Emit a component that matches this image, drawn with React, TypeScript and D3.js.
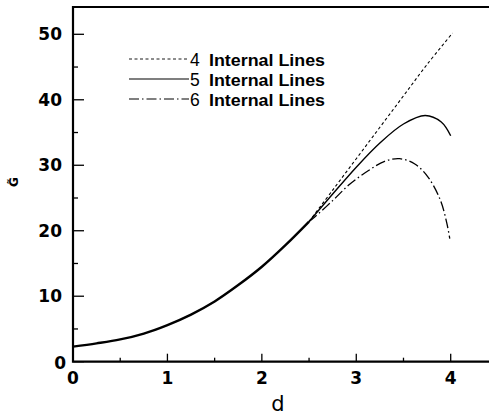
import { useRef, useEffect } from 'react';
import * as d3 from 'd3';

const W = 489;
const H = 415;
const X0 = 73;          // left frame
const Y0 = 361.7;       // bottom axis
const TOP = 7;

// base curve shared by all three
const baseD = [0, 0.25, 0.5, 0.75, 1, 1.25, 1.5, 1.75, 2, 2.25, 2.5];
const baseG = [2.3, 2.8, 3.4, 4.3, 5.6, 7.2, 9.2, 11.7, 14.5, 17.8, 21.4];

const fourD = [2.5, 2.75, 3, 3.25, 3.5, 3.75, 4.02];
const fourG = [21.4, 26.2, 31.0, 35.8, 40.6, 45.4, 50.2];

const fiveD = [2.5, 2.75, 3, 3.25, 3.5, 3.73, 3.9, 4.0];
const fiveG = [21.4, 25.6, 29.7, 33.4, 36.3, 37.6, 36.6, 34.5];

const sixD = [2.5, 2.56, 2.75, 2.93, 3.13, 3.3, 3.46, 3.62, 3.76, 3.89, 3.96, 3.99];
const sixG = [21.4, 22.1, 24.6, 27.1, 29.2, 30.6, 31.0, 30.2, 28.2, 24.7, 21.1, 18.8];

const xMajor = [0, 1, 2, 3, 4];
const xMinor = [0.5, 1.5, 2.5, 3.5];
const yMajor = [0, 10, 20, 30, 40, 50];
const yMinor = [5, 15, 25, 35, 45];

const legendDigits = ['4', '5', '6'];
const legendDash = ['3,2.5', '', '10,3,1.5,3'];

export default function App() {
  const ref = useRef<SVGSVGElement>(null);

  useEffect(() => {
    const svg = d3.select(ref.current);
    svg.selectAll('*').remove();

    const x = d3.scaleLinear().domain([0, 4]).range([X0, 450.7]);
    const y = d3.scaleLinear().domain([0, 50]).range([Y0, 34.3]);

    // frame
    svg.append('path')
      .attr('d', `M${W},${TOP}H${X0}V${Y0}H${W}`)
      .attr('fill', 'none')
      .attr('stroke', '#000')
      .attr('stroke-width', 2.2);

    // ticks (inward)
    const tk = svg.append('g').attr('stroke', '#000').attr('stroke-width', 1.3);
    xMajor.forEach((v) => tk.append('line').attr('x1', x(v)).attr('x2', x(v)).attr('y1', Y0).attr('y2', Y0 - 8));
    xMinor.forEach((v) => tk.append('line').attr('x1', x(v)).attr('x2', x(v)).attr('y1', Y0).attr('y2', Y0 - 4));
    yMajor.forEach((v) => tk.append('line').attr('x1', X0).attr('x2', X0 + 11).attr('y1', y(v)).attr('y2', y(v)));
    yMinor.forEach((v) => tk.append('line').attr('x1', X0).attr('x2', X0 + 5).attr('y1', y(v)).attr('y2', y(v)));

    const font = "'DejaVu Sans', sans-serif";
    svg.append('g').selectAll('text').data(xMajor).join('text')
      .attr('x', (d) => x(d))
      .attr('y', 378)
      .attr('dy', '0.36em')
      .attr('text-anchor', 'middle')
      .attr('font-family', font)
      .attr('font-weight', 'bold')
      .attr('font-size', 17)
      .text((d) => d);

    svg.append('g').selectAll('text').data(yMajor).join('text')
      .attr('x', (d) => (d === 0 ? 66 : 62))
      .attr('y', (d) => y(d) + (d === 0 ? 0.8 : 0))
      .attr('dy', '0.36em')
      .attr('text-anchor', 'end')
      .attr('font-family', font)
      .attr('font-weight', 'bold')
      .attr('font-size', 17)
      .text((d) => d);

    // axis titles
    svg.append('text')
      .attr('x', 278)
      .attr('y', 411)
      .attr('text-anchor', 'middle')
      .attr('font-family', font)
      .attr('font-size', 21)
      .text('d');

    svg.append('text')
      .attr('transform', 'translate(18,182) rotate(-90)')
      .attr('text-anchor', 'middle')
      .attr('font-family', font)
      .attr('font-weight', 'bold')
      .attr('font-size', 12)
      .text('G\u0303');

    const line = (ds: number[], gs: number[]) =>
      d3.line<number>()
        .x((d) => x(d))
        .y((_, i) => y(gs[i]))
        .curve(d3.curveCatmullRom.alpha(0.5))(ds);

    svg.append('path').attr('d', line(baseD, baseG)).attr('fill', 'none')
      .attr('stroke', '#000').attr('stroke-width', 2.4);
    svg.append('path').attr('d', line(fourD, fourG)).attr('fill', 'none')
      .attr('stroke', '#000').attr('stroke-width', 1.1).attr('stroke-dasharray', legendDash[0]);
    svg.append('path').attr('d', line(fiveD, fiveG)).attr('fill', 'none')
      .attr('stroke', '#000').attr('stroke-width', 1.4);
    svg.append('path').attr('d', line(sixD, sixG)).attr('fill', 'none')
      .attr('stroke', '#000').attr('stroke-width', 1.3).attr('stroke-dasharray', legendDash[2]);

    // legend
    const lg = svg.append('g');
    legendDigits.forEach((dg, i) => {
      const cy = 59 + i * 20;
      lg.append('line')
        .attr('x1', 129).attr('x2', 189).attr('y1', cy).attr('y2', cy)
        .attr('stroke', '#000')
        .attr('stroke-width', i === 0 ? 0.9 : 1.2)
        .attr('stroke-dasharray', legendDash[i] || null);
      lg.append('text')
        .attr('x', 190).attr('y', cy + 6.5)
        .attr('font-family', "'Liberation Sans', Arial, sans-serif")
        .attr('font-size', 17.5)
        .text(dg);
      lg.append('text')
        .attr('x', 209).attr('y', cy + 6.5)
        .attr('font-family', "'Liberation Sans', Arial, sans-serif")
        .attr('font-weight', 'bold')
        .attr('font-size', 17)
        .attr('textLength', 116)
        .attr('lengthAdjust', 'spacingAndGlyphs')
        .text('Internal Lines');
    });
  }, []);

  return (
    <svg
      ref={ref}
      width={W}
      height={H}
      style={{ position: 'absolute', left: 0, top: 0, background: '#fff' }}
    />
  );
}
